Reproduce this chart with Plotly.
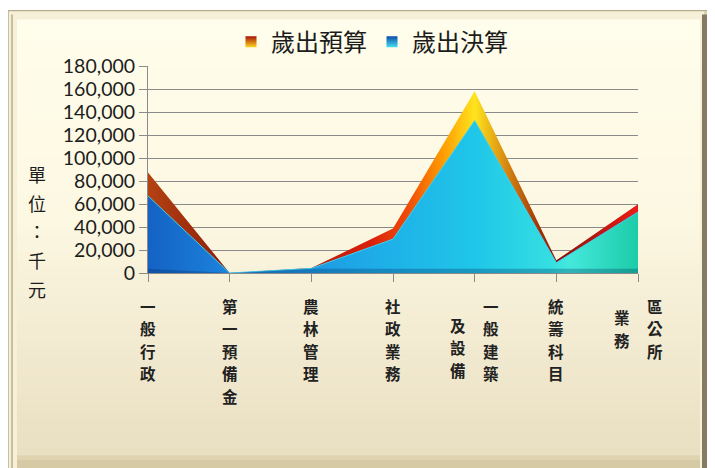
import plotly.graph_objects as go

# ---- data ----
categories = ["一般行政", "第一預備金", "農林管理", "社政業務", "一般建築及設備", "統籌科目", "區公所業務"]
budget = [87500, 0, 4300, 38700, 158000, 11000, 59700]      # 歲出預算
actual = [67000, 0, 4000, 29500, 132500, 9000, 53000]       # 歲出決算
series_names = ["歲出預算", "歲出決算"]
y_ticks = [0, 20000, 40000, 60000, 80000, 100000, 120000, 140000, 160000, 180000]
# vertical label columns (right-to-left columns, as in the reference)
label_columns = {
    0: ["一般行政"],
    1: ["第一預備金"],
    2: ["農林管理"],
    3: ["社政業務"],
    4: ["一般建築", "及設備"],
    5: ["統籌科目"],
    6: ["區公所", "業務"],
}
axis_title = "單位：千元"

W, H = 715, 468
L, T = 140, 56
PR, PB = 630, 265          # plot right / bottom edges (figure px)
R, B = W - PR, H - PB
PW, PH = PR - L, PB - T


def px(x):
    return (x - L) / PW


def py(y):
    return (PB - y) / PH


x_idx = list(range(len(categories)))
n = len(categories) - 1

fig = go.Figure()

# budget (behind)
fig.add_trace(go.Scatter(
    x=x_idx, y=budget, mode="lines", fill="tozeroy",
    line=dict(color="rgba(200,26,10,0)", width=0),
    fillgradient=dict(
        type="horizontal", start=0, stop=n,
        colorscale=[[0.0, "#B44212"], [0.16, "#8E1C08"], [0.45, "#D81E0C"],
                    [0.53, "#F04A08"], [0.6, "#FF9A00"], [0.667, "#FFE41E"],
                    [0.73, "#D88A10"], [0.8, "#A03008"], [0.84, "#8A1208"],
                    [1.0, "#EC1C18"]]),
    showlegend=False, hoverinfo="skip"))

# actual (front)
fig.add_trace(go.Scatter(
    x=x_idx, y=actual, mode="lines", fill="tozeroy",
    line=dict(color="#3FD0F0", width=1),
    fillgradient=dict(
        type="horizontal", start=0, stop=n,
        colorscale=[[0.0, "#1462C4"], [0.16, "#1C82DC"], [0.5, "#1EB2E8"],
                    [0.667, "#20C6E8"], [0.82, "#34DEE2"], [0.86, "#44E8DC"],
                    [1.0, "#1CCCA8"]]),
    showlegend=False, hoverinfo="skip"))

# 3-D "floor" shading along the bottom of the front area
floor_depth = 3600
fig.add_trace(go.Scatter(
    x=x_idx, y=[min(v, floor_depth) for v in actual], mode="lines", fill="tozeroy",
    line=dict(width=0, color="rgba(0,0,0,0)"),
    fillcolor="rgba(5,40,90,0.28)",
    showlegend=False, hoverinfo="skip"))

# legend entries
fig.add_trace(go.Scatter(
    x=[None], y=[None], mode="markers", name=series_names[0],
    marker=dict(symbol="square", size=11, color="#A81408",
                gradient=dict(type="vertical", color="#FFD820"))))
fig.add_trace(go.Scatter(
    x=[None], y=[None], mode="markers", name=series_names[1],
    marker=dict(symbol="square", size=11, color="#0A4EA8",
                gradient=dict(type="vertical", color="#48E0F4"))))

# ---- background frame ----
shapes = []
shapes.append(dict(type="rect", xref="paper", yref="paper", layer="below",
                   x0=px(0), x1=px(706), y0=py(475), y1=py(0),
                   fillcolor="#DCD2B4", line=dict(color="#B4A88A", width=1)))
shapes.append(dict(type="rect", xref="paper", yref="paper", layer="below",
                   x0=px(1), x1=px(696), y0=py(474), y1=py(1),
                   fillcolor="#F6F0D8", line=dict(width=0)))
shapes.append(dict(type="rect", xref="paper", yref="paper", layer="below",
                   x0=px(694), x1=px(699), y0=py(475), y1=py(4),
                   fillcolor="#857A62", line=dict(width=0)))
shapes.append(dict(type="rect", xref="paper", yref="paper", layer="below",
                   x0=px(3), x1=px(5), y0=py(474), y1=py(4),
                   fillcolor="#C9BE9E", line=dict(width=0)))

top_c = (255, 253, 236)
mid_c = (253, 248, 226)
bot_c = (233, 223, 194)
y_start, y_end = 9, 449
nb = 60
for i in range(nb):
    t0 = y_start + (y_end - y_start) * i / nb
    t1 = y_start + (y_end - y_start) * (i + 1) / nb
    f = i / (nb - 1)
    if f < 0.45:
        g = f / 0.45
        c = [round(top_c[k] + (mid_c[k] - top_c[k]) * g) for k in range(3)]
    else:
        g = (f - 0.45) / 0.55
        c = [round(mid_c[k] + (bot_c[k] - mid_c[k]) * g) for k in range(3)]
    shapes.append(dict(type="rect", xref="paper", yref="paper", layer="below",
                       x0=px(9), x1=px(692), y0=py(t1 + 0.5), y1=py(t0),
                       fillcolor="rgb(%d,%d,%d)" % tuple(c), line=dict(width=0)))
# bottom bevel
shapes.append(dict(type="rect", xref="paper", yref="paper", layer="below",
                   x0=px(9), x1=px(692), y0=py(453), y1=py(449),
                   fillcolor="#DFD3B0", line=dict(width=0)))
shapes.append(dict(type="rect", xref="paper", yref="paper", layer="below",
                   x0=px(9), x1=px(692), y0=py(472), y1=py(453),
                   fillcolor="#D6CAA5", line=dict(width=0)))

# ---- annotations ----
annotations = []
cjk = "Noto Sans CJK TC"
row_h = 22.8
first_row = 298
col_gap = 33
for i, cols in label_columns.items():
    ncol = len(cols)
    for j, col in enumerate(cols):
        # column 0 is rightmost
        offset = (ncol - 1) / 2 * col_gap - j * col_gap
        start_row = 0 if j == 0 else (0.85 if len(col) >= 3 else 0.5)
        for k, ch in enumerate(col):
            annotations.append(dict(
                x=x_idx[i], y=py(first_row + (start_row + k) * row_h), xref="x", yref="paper",
                text="<b>%s</b>" % ch, showarrow=False, xanchor="center", yanchor="middle",
                xshift=offset,
                font=dict(family=cjk, size=15.5, color="#222222")))

for k, ch in enumerate(axis_title):
    annotations.append(dict(
        x=px(29), y=py(165 + k * 29), xref="paper", yref="paper",
        text=ch, showarrow=False, xanchor="center", yanchor="middle",
        font=dict(family=cjk, size=18, color="#1C1C1C")))

fig.update_layout(
    width=W, height=H,
    margin=dict(l=L, r=R, t=T, b=B, pad=0),
    paper_bgcolor="white",
    plot_bgcolor="rgba(0,0,0,0)",
    shapes=shapes,
    annotations=annotations,
    legend=dict(orientation="h", x=px(364), xanchor="center", y=py(32), yanchor="middle",
                font=dict(family=cjk, size=24, color="#1C1C1C"),
                itemwidth=30, bgcolor="rgba(0,0,0,0)", traceorder="normal"),
    xaxis=dict(range=[0, n], tickmode="array", tickvals=x_idx, ticktext=[""] * len(x_idx),
               showgrid=False, zeroline=False, showline=True, linecolor="#8A8A8A",
               linewidth=1, ticks="outside", ticklen=8, tickcolor="#8A8A8A"),
    yaxis=dict(range=[0, 180000], tickmode="array", tickvals=y_ticks,
               ticktext=[f"{v:,}" for v in y_ticks],
               showgrid=True, gridcolor="#8A8A8A", gridwidth=1, zeroline=False,
               showline=True, linecolor="#8A8A8A", linewidth=1,
               ticks="outside", ticklen=8, tickcolor="#8A8A8A",
               tickfont=dict(family="Lato", size=19.5, color="#1C1C1C")),
    showlegend=True,
)

fig.write_html("out.html")
